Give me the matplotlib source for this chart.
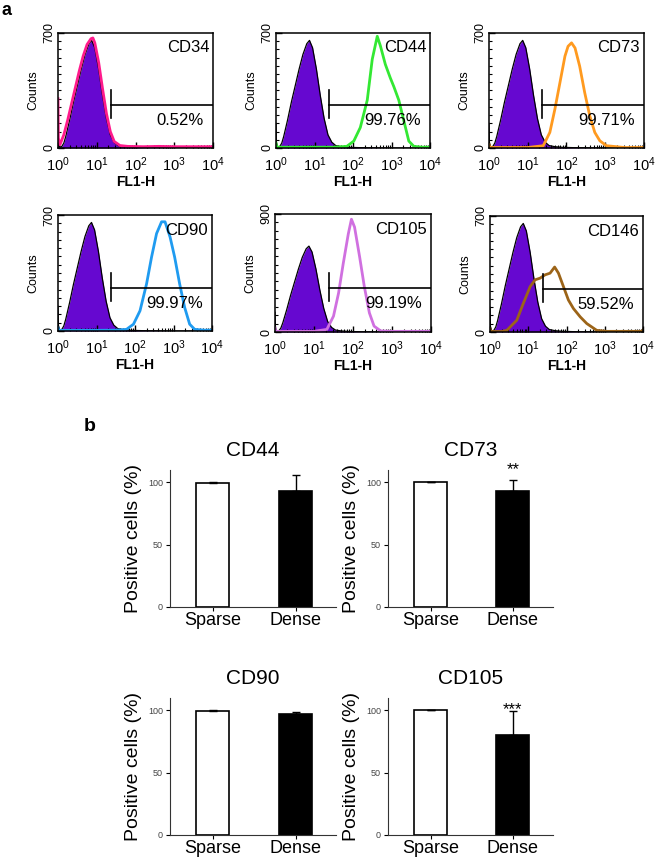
import matplotlib
matplotlib.use('Agg')
import matplotlib.pyplot as plt
import numpy as np
from matplotlib.ticker import MultipleLocator, LogLocator, NullFormatter

plt.rcParams['font.family'] = ['Liberation Sans', 'DejaVu Sans']
plt.rcParams['mathtext.fontset'] = 'custom'
plt.rcParams['mathtext.rm'] = 'Liberation Sans'
plt.rcParams['mathtext.it'] = 'Liberation Sans:italic'
plt.rcParams['mathtext.bf'] = 'Liberation Sans:bold'

# ---- panel a: flow cytometry histograms (x in log10 FL1-H units) ----
markers = ['CD34', 'CD44', 'CD73', 'CD90', 'CD105', 'CD146']
pct_labels = ['0.52%', '99.76%', '99.71%', '99.97%', '99.19%', '59.52%']
y_max = [700, 700, 700, 700, 900, 700]
line_colors = ['#ff1a8c', '#33e833', '#ff9a1f', '#1f9bf0', '#d070e0', '#9c6418']
gate_x = 24

iso_log = [0.0, 0.01, 0.05, 0.1, 0.15, 0.2, 0.3, 0.4, 0.5, 0.6, 0.7, 0.8, 0.87, 0.95,
           1.05, 1.15, 1.25, 1.35, 1.45, 1.55, 1.7, 1.9, 2.2, 2.6, 3.0, 4.0]
iso_counts = [150, 30, 5, 10, 30, 70, 170, 280, 380, 480, 570, 635, 655, 610,
              480, 320, 180, 80, 35, 15, 8, 4, 2, 1, 0, 0]

cd34_log = [0.0, 0.01, 0.05, 0.15, 0.25, 0.35, 0.45, 0.55, 0.65, 0.75, 0.85, 0.9, 0.95,
            1.05, 1.15, 1.25, 1.35, 1.45, 1.6, 1.8, 2.2, 2.6, 3.0, 3.5, 4.0]
cd34_counts = [300, 60, 20, 80, 170, 270, 370, 470, 560, 630, 665, 670, 640,
               520, 360, 210, 100, 40, 15, 10, 8, 10, 8, 8, 8]
cd44_log = [0.0, 0.02, 0.5, 1.0, 1.5, 1.84, 2.02, 2.19, 2.37, 2.5, 2.63, 2.71, 2.84,
            2.97, 3.06, 3.19, 3.32, 3.45, 3.58, 3.8, 4.0]
cd44_counts = [30, 5, 5, 5, 5, 10, 42, 125, 291, 540, 680, 623, 509,
               426, 374, 291, 166, 42, 10, 5, 5]
cd73_log = [0.0, 0.02, 0.5, 1.0, 1.4, 1.57, 1.7, 1.83, 1.96, 2.04, 2.13, 2.22, 2.34,
            2.47, 2.6, 2.73, 2.86, 3.03, 3.5, 4.0]
cd73_counts = [20, 3, 3, 3, 14, 95, 236, 397, 559, 619, 640, 609, 498,
               337, 196, 95, 44, 14, 3, 3]
cd90_log = [0.0, 0.02, 0.5, 1.0, 1.5, 1.78, 1.96, 2.13, 2.3, 2.43, 2.56, 2.69, 2.78,
            2.91, 3.03, 3.16, 3.29, 3.42, 3.55, 3.8, 4.0]
cd90_counts = [20, 4, 4, 4, 5, 10, 41, 122, 284, 446, 588, 659, 659,
               568, 446, 284, 142, 41, 10, 5, 5]
cd105_log = [0.0, 0.02, 0.5, 1.0, 1.33, 1.5, 1.63, 1.75, 1.88, 1.96, 2.04, 2.17, 2.29,
             2.42, 2.54, 2.71, 3.0, 3.5, 4.0]
cd105_counts = [30, 5, 5, 5, 20, 121, 297, 523, 749, 860, 800, 573, 347,
                146, 45, 8, 5, 5, 5]
cd146_log = [0.0, 0.02, 0.3, 0.44, 0.7, 0.87, 1.05, 1.18, 1.31, 1.44, 1.57, 1.69, 1.79,
             1.92, 2.05, 2.18, 2.36, 2.53, 2.79, 3.06, 3.5, 3.98, 4.0]
cd146_counts = [20, 3, 3, 10, 71, 172, 274, 315, 325, 345, 355, 392, 355,
                274, 193, 142, 91, 51, 10, 4, 4, 4, 12]

pos_logs = [cd34_log, cd44_log, cd73_log, cd90_log, cd105_log, cd146_log]
pos_counts = [cd34_counts, cd44_counts, cd73_counts, cd90_counts, cd105_counts, cd146_counts]

# ---- panel b: bar charts ----
bar_markers = ['CD44', 'CD73', 'CD90', 'CD105']
groups = ['Sparse', 'Dense']
sparse_mean = [99, 100, 99.2, 100]
sparse_err = [1.0, 0.3, 0.7, 0.2]
dense_mean = [93, 93, 96.5, 80]
dense_err = [13, 8.5, 1.7, 19]
sig_marks = ['', '**', '', '***']
sig_y = [None, 110, None, 100]

W, H = 655, 858
fig = plt.figure(figsize=(W / 100, H / 100), dpi=100)


def px_axes(l, t, r, b):
    return fig.add_axes([l / W, 1 - b / H, (r - l) / W, (b - t) / H])


hist_boxes = [(58, 33, 213, 148), (276, 33, 430, 148), (489, 33, 644, 148),
              (58, 215, 212, 331), (275, 214, 431, 332), (490, 216, 643, 332)]

for i, name in enumerate(markers):
    ax = px_axes(*hist_boxes[i])
    ix = 10 ** np.array(iso_log)
    ax.fill_between(ix, iso_counts, 0, color='#6608d0', lw=0)
    ax.plot(ix, iso_counts, color='black', lw=0.9)
    ax.plot(10 ** np.array(pos_logs[i]), pos_counts[i], color=line_colors[i], lw=2)
    ym = y_max[i]
    ax.set_xscale('log')
    ax.set_xlim(1, 1e4)
    ax.set_ylim(0, ym)
    # gate marker
    ax.plot([gate_x, gate_x], [0.26 * ym, 0.50 * ym], color='black', lw=1.2)
    ax.plot([gate_x, 1e4], [0.375 * ym, 0.375 * ym], color='black', lw=1.2)
    ax.text(0.94, 0.24, pct_labels[i], transform=ax.transAxes, ha='right', va='center',
            fontsize=12)
    ax.text(0.975, 0.87, name, transform=ax.transAxes, ha='right', va='center',
            fontsize=12)
    ax.set_xticks([1, 10, 100, 1000, 10000])
    ax.set_xticklabels(['$\\mathregular{10^{%d}}$' % k for k in range(5)], fontsize=10.5)
    ax.xaxis.set_minor_locator(LogLocator(base=10, subs=np.arange(2, 10), numticks=20))
    ax.xaxis.set_minor_formatter(NullFormatter())
    ax.set_yticks([0, ym])
    ax.set_yticklabels(['0', str(ym)], rotation=90, va='center', fontsize=9)
    ax.yaxis.set_minor_locator(MultipleLocator(ym / 14))
    ax.tick_params(which='major', direction='in', length=4, width=1, pad=2)
    ax.tick_params(axis='x', which='major', pad=5)
    ax.tick_params(which='minor', direction='in', length=2.5, width=0.8)
    ax.set_xlabel('FL1-H', fontsize=10, fontweight='bold', labelpad=1)
    ax.set_ylabel('Counts', fontsize=9, labelpad=3)
    for s in ax.spines.values():
        s.set_linewidth(1.1)

bar_boxes = [(170, 469.5, 336, 607), (388, 469.5, 553, 607),
             (170, 697.5, 336, 835), (388, 697.5, 553, 835)]

for i, name in enumerate(bar_markers):
    ax = px_axes(*bar_boxes[i])
    means = [sparse_mean[i], dense_mean[i]]
    errs = [[0, 0], [sparse_err[i], dense_err[i]]]
    ax.bar([0, 1], means, width=0.4, color=['white', 'black'], edgecolor='black',
           linewidth=1.2, yerr=errs, capsize=3,
           error_kw=dict(ecolor='black', elinewidth=1, capthick=1))
    ax.set_xlim(-0.52, 1.49)
    ax.set_ylim(0, 110)
    ax.set_yticks([0, 50, 100])
    ax.set_xticks([0, 1])
    ax.set_xticklabels(groups, fontsize=13)
    ax.tick_params(axis='y', labelsize=6.5, labelcolor='#444444', length=3, pad=2)
    ax.tick_params(axis='x', length=3, pad=0.5)
    for s in ['top', 'right']:
        ax.spines[s].set_visible(False)
    for s in ['left', 'bottom']:
        ax.spines[s].set_color('#333333')
    ax.set_title(name, fontsize=15, pad=10)
    ax.set_ylabel('Positive cells (%)', fontsize=14, labelpad=4)
    if sig_marks[i]:
        ax.text(1, sig_y[i], sig_marks[i], ha='center', va='center', fontsize=12)

fig.text(2 / W, 1 - 2 / H, 'a', fontsize=13, fontweight='bold', ha='left', va='top')
fig.text(84 / W, 1 - 418 / H, 'b', fontsize=14, fontweight='bold', ha='left', va='top')

fig.savefig('out.png', dpi=100)
